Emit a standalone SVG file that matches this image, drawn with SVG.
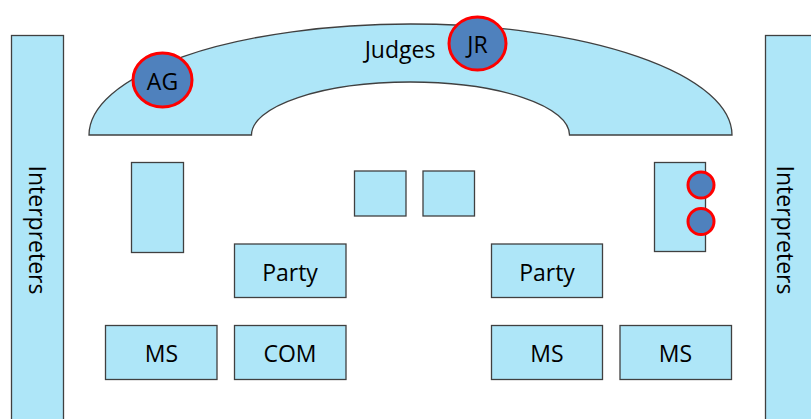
<svg xmlns="http://www.w3.org/2000/svg" width="811" height="419" viewBox="0 0 811 419">
<style>
.box{fill:#aee6f8;stroke:#404040;stroke-width:1.3}
.seat{fill:#4f81bd;stroke:#ff0000;stroke-width:3}
.t{font-family:"Open Sans","Liberation Sans",sans-serif;font-size:23px;fill:#000;text-anchor:middle}
</style>
<rect width="811" height="419" fill="#ffffff"/>
<g id="interpreters-left">
<rect class="box" x="11.5" y="35.5" width="52" height="400"/>
<text class="t" transform="translate(29,230) rotate(90)" x="0" y="0">Interpreters</text>
</g>
<g id="interpreters-right">
<rect class="box" x="765.5" y="35.5" width="60" height="400"/>
<text class="t" transform="translate(777,230) rotate(90)" x="0" y="0">Interpreters</text>
</g>
<g id="judges">
<path class="box" d="M89,135 A321.5,111 0 0 1 732,135 L569.5,135 A159,53 0 0 0 251.5,135 Z"/>
<text class="t" x="400" y="58">Judges</text>
</g>
<g id="ag">
<ellipse class="seat" cx="162.5" cy="80" rx="29.5" ry="27"/>
<text class="t" x="162.5" y="90">AG</text>
</g>
<g id="jr">
<ellipse class="seat" cx="477.5" cy="43.5" rx="28.5" ry="26.5"/>
<text class="t" x="477.5" y="53">JR</text>
</g>
<g id="desk-left">
<rect class="box" x="131.5" y="162.5" width="52" height="90"/>
</g>
<g id="square-1">
<rect class="box" x="354.5" y="171" width="51.5" height="45"/>
</g>
<g id="square-2">
<rect class="box" x="423" y="171" width="51.5" height="45"/>
</g>
<g id="desk-right">
<rect class="box" x="654.5" y="162.5" width="51" height="89"/>
<circle class="seat" cx="701" cy="185" r="13"/>
<circle class="seat" cx="701" cy="221.5" r="13"/>
</g>
<g id="party-left">
<rect class="box" x="234.5" y="244" width="111.5" height="53.5"/>
<text class="t" x="290" y="281">Party</text>
</g>
<g id="party-right">
<rect class="box" x="491.5" y="244" width="111" height="53.5"/>
<text class="t" x="547" y="281">Party</text>
</g>
<g id="ms-1">
<rect class="box" x="105.5" y="325.5" width="111.5" height="54"/>
<text class="t" x="161.5" y="362">MS</text>
</g>
<g id="com">
<rect class="box" x="234.5" y="325.5" width="111.5" height="54"/>
<text class="t" x="290" y="362">COM</text>
</g>
<g id="ms-2">
<rect class="box" x="491.5" y="325.5" width="111" height="54"/>
<text class="t" x="547" y="362">MS</text>
</g>
<g id="ms-3">
<rect class="box" x="620" y="325.5" width="111.5" height="54"/>
<text class="t" x="675.5" y="362">MS</text>
</g>
<g id="connectors"></g>
</svg>
